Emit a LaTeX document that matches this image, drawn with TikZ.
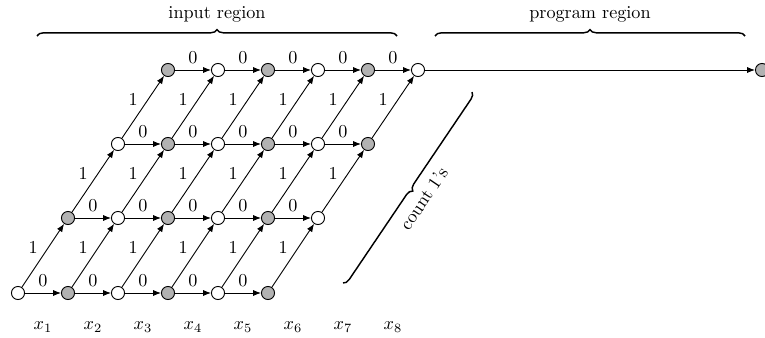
\documentclass[tikz,border=0pt]{standalone}
\usetikzlibrary{arrows.meta,decorations.pathreplacing,calc}
\begin{document}
\begin{tikzpicture}[x=0.55pt,y=-0.55pt,
  st/.style={circle,draw,line width=0.5pt,inner sep=0pt,minimum size=7.2pt},
  wst/.style={st,fill=white},
  gst/.style={st,fill=gray!60},
  edge/.style={line width=0.5pt,-{Latex[length=4.4pt,width=3.4pt]}},
  br/.style={decorate,decoration={brace,amplitude=3.5pt},line width=0.8pt},
  brm/.style={decorate,decoration={brace,mirror,amplitude=3.5pt},line width=0.8pt}
]
\useasboundingbox (0,0) rectangle (765,337);
% states
\foreach \r/\y in {0/293,1/218,2/144,3/70}{
  \foreach \c in {0,...,5}{
    \pgfmathtruncatemacro\s{mod(\r+\c,2)}
    \ifnum\s=1
      \node[gst] (n\r\c) at ({18+50*(\r+\c)},\y) {};
    \else
      \node[wst] (n\r\c) at ({18+50*(\r+\c)},\y) {};
    \fi
  }
}
\node[gst] (F) at (762,70) {};
% horizontal edges (reading 0)
\foreach \r in {0,...,3}{
  \foreach \c [evaluate=\c as \d using int(\c+1)] in {0,...,4}{
    \draw[edge] (n\r\c) -- (n\r\d) node[midway,above=2pt,inner sep=1pt]{0};
  }
}
% diagonal edges (reading 1)
\foreach \r [evaluate=\r as \q using int(\r+1)] in {0,1,2}{
  \foreach \c in {0,...,5}{
    \draw[edge] (n\r\c) -- (n\q\c) node[pos=0.62,left=4.4pt,inner sep=1pt]{1};
  }
}
\draw[edge] (n35) -- (F);
% braces
\coordinate (ia) at (37,36);
\coordinate (ib) at (397,36);
\coordinate (pa) at (435,36);
\coordinate (pb) at (745,36);
\coordinate (ca) at (343,283);
\coordinate (cb) at (472,92);
\draw[br] (ia) -- (ib) node[midway,above=4pt]{input region};
\draw[br] (pa) -- (pb) node[midway,above=4pt]{program region};
\draw[brm] (ca) -- (cb) node[midway,sloped,below=3.5pt]{count 1's};
% input symbols
\foreach \i in {1,...,8}{
  \node (x\i) at ({43+50*(\i-1)},327) {$x_{\i}$};
}
\end{tikzpicture}
\end{document}
